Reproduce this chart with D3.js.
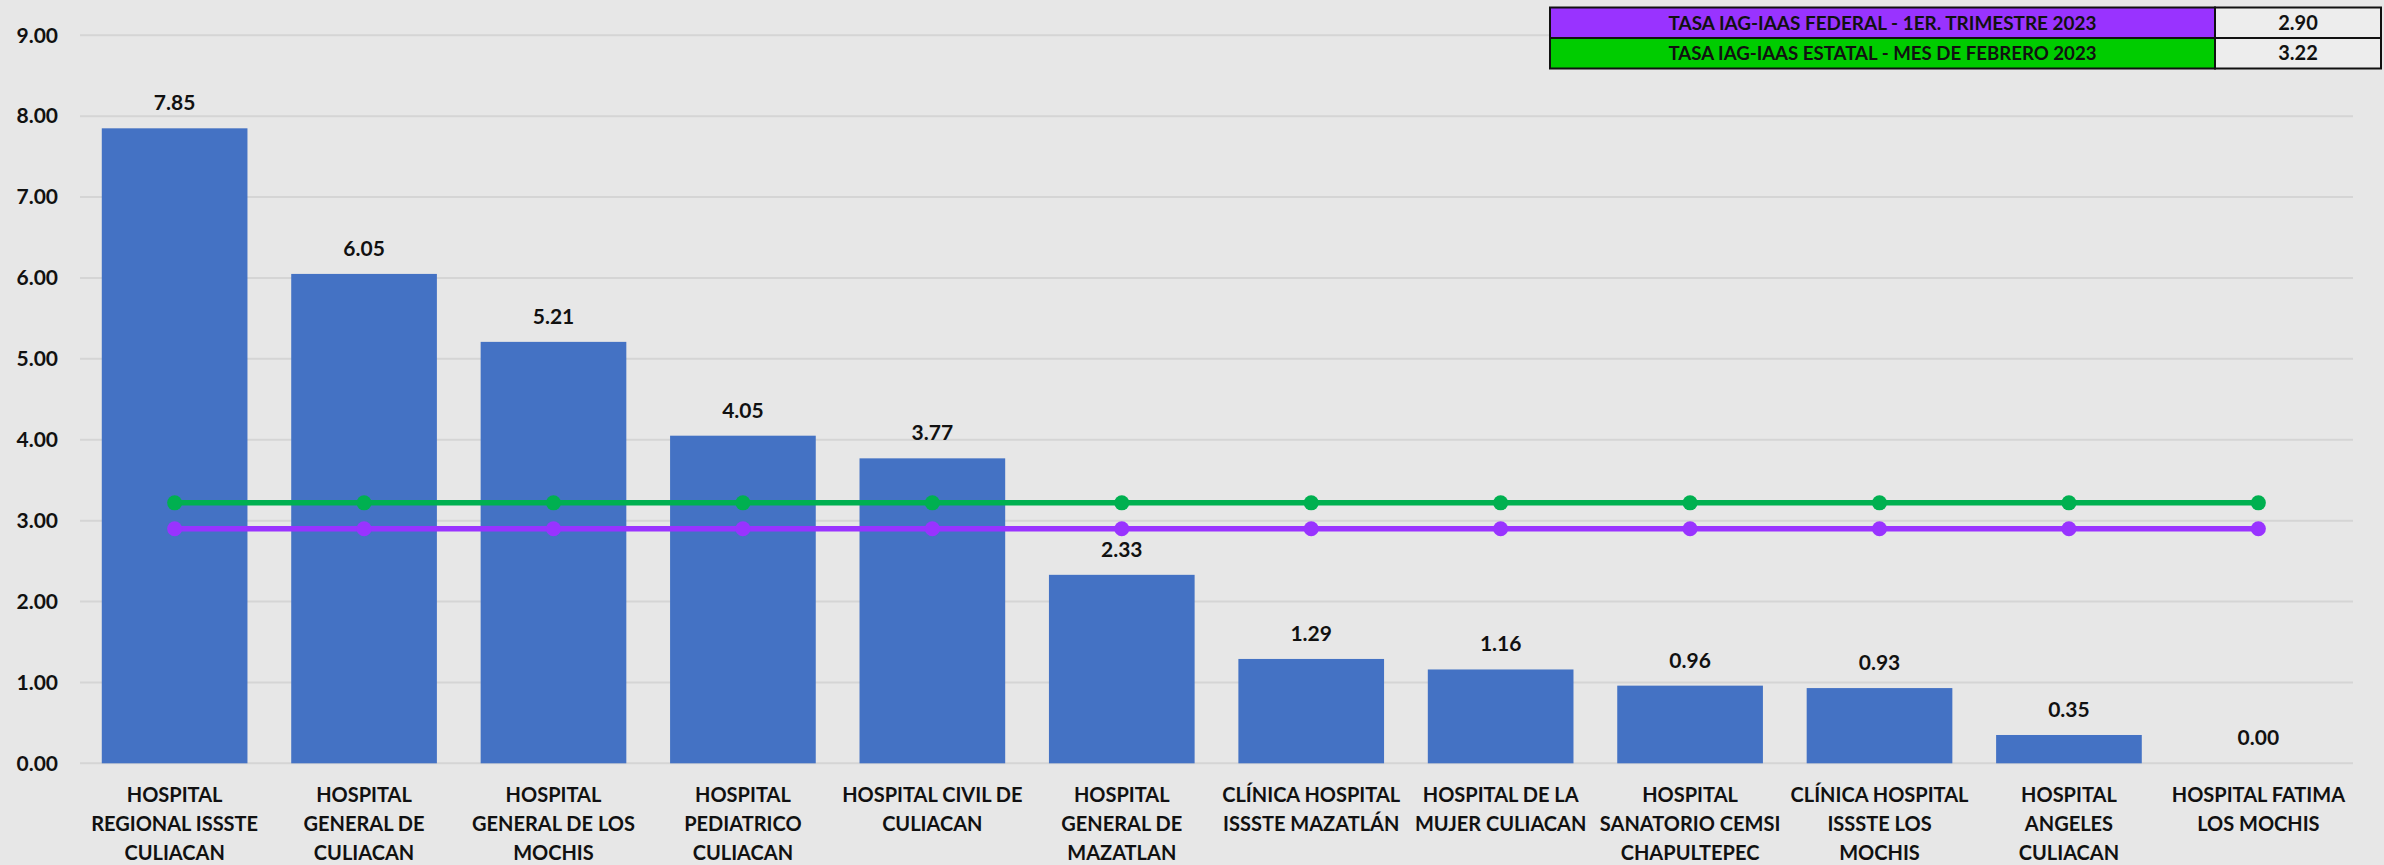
<!DOCTYPE html>
<html><head><meta charset="utf-8">
<script src="https://cdn.jsdelivr.net/npm/d3@7"></script>
<style>
html,body{margin:0;padding:0;background:#E7E7E7;}
svg{display:block;}
text{font-family:Lato,"Open Sans",sans-serif;font-weight:bold;fill:#111;}
</style></head><body>
<svg id="c" width="2384" height="865"></svg>
<script>
const categories = [
  ["HOSPITAL","REGIONAL ISSSTE","CULIACAN"],
  ["HOSPITAL","GENERAL DE","CULIACAN"],
  ["HOSPITAL","GENERAL DE LOS","MOCHIS"],
  ["HOSPITAL","PEDIATRICO","CULIACAN"],
  ["HOSPITAL CIVIL DE","CULIACAN"],
  ["HOSPITAL","GENERAL DE","MAZATLAN"],
  ["CLÍNICA HOSPITAL","ISSSTE MAZATLÁN"],
  ["HOSPITAL DE LA","MUJER CULIACAN"],
  ["HOSPITAL","SANATORIO CEMSI","CHAPULTEPEC"],
  ["CLÍNICA HOSPITAL","ISSSTE LOS","MOCHIS"],
  ["HOSPITAL","ANGELES","CULIACAN"],
  ["HOSPITAL FATIMA","LOS MOCHIS"]
];
const tasaHospital = [7.85, 6.05, 5.21, 4.05, 3.77, 2.33, 1.29, 1.16, 0.96, 0.93, 0.35, 0.00];
const tasaFederal = [2.90, 2.90, 2.90, 2.90, 2.90, 2.90, 2.90, 2.90, 2.90, 2.90, 2.90, 2.90];
const tasaEstatal = [3.22, 3.22, 3.22, 3.22, 3.22, 3.22, 3.22, 3.22, 3.22, 3.22, 3.22, 3.22];
const yTicks = [0, 1, 2, 3, 4, 5, 6, 7, 8, 9];
const legendLabels = ["TASA IAG-IAAS FEDERAL - 1ER. TRIMESTRE 2023", "TASA IAG-IAAS ESTATAL - MES DE FEBRERO 2023"];
const legendValues = [2.90, 3.22];

const svg = d3.select("#c");
const names = categories.map(c => c.join(" "));
const x = d3.scaleBand().domain(names).range([80, 2353]).paddingInner(0.231).paddingOuter(0.115);
const y = d3.scaleLinear().domain([0, 9]).range([763.3, 35.3]);

// gridlines
svg.append("g").selectAll("line").data(yTicks).join("line")
  .attr("x1", 80).attr("x2", 2353)
  .attr("y1", d => y(d)).attr("y2", d => y(d))
  .attr("stroke", "#D5D5D5").attr("stroke-width", 2);

// y axis labels
const yAxis = d3.axisLeft(y).tickValues(yTicks).tickFormat(d3.format(".2f")).tickSize(0).tickPadding(0);
const ya = svg.append("g").attr("transform", "translate(58,0)").call(yAxis);
ya.select(".domain").remove();
ya.selectAll("text").attr("font-size", 21).attr("fill", "#111")
  .style("font-family", "Lato").style("font-weight", "bold");

// bars
svg.append("g").selectAll("rect").data(tasaHospital).join("rect")
  .attr("x", (d, i) => x(names[i]))
  .attr("width", x.bandwidth())
  .attr("y", d => y(d))
  .attr("height", d => y(0) - y(d))
  .attr("fill", "#4472C4");

// data labels
svg.append("g").selectAll("text").data(tasaHospital).join("text")
  .attr("x", (d, i) => x(names[i]) + x.bandwidth() / 2)
  .attr("y", d => y(d) - 18)
  .attr("text-anchor", "middle").attr("font-size", 21)
  .text(d => d.toFixed(2));

// lines
const cx = i => x(names[i]) + x.bandwidth() / 2;
const line = d3.line().x((d, i) => cx(i)).y(d => y(d));
[[tasaEstatal, "#00B050"], [tasaFederal, "#9933FF"]].forEach(([data, col]) => {
  const g = svg.append("g");
  g.append("path").attr("d", line(data)).attr("fill", "none").attr("stroke", col).attr("stroke-width", 5.5);
  g.selectAll("circle").data(data).join("circle")
    .attr("cx", (d, i) => cx(i)).attr("cy", d => y(d)).attr("r", 7.5).attr("fill", col);
});

// category labels
const cl = svg.append("g");
categories.forEach((lines, i) => {
  const t = cl.append("text").attr("text-anchor", "middle").attr("font-size", 20);
  lines.forEach((ln, j) => {
    t.append("tspan").attr("x", cx(i)).attr("y", 802 + j * 29).text(ln);
  });
});

// legend table
const tx0 = 1550, tx1 = 2215, tx2 = 2381, ty0 = 7.5, rh = 30.5;
const fills = ["#9933FF", "#00CC00"];
const lg = svg.append("g");
legendLabels.forEach((lab, i) => {
  const yy = ty0 + i * rh;
  lg.append("rect").attr("x", tx0).attr("y", yy).attr("width", tx1 - tx0).attr("height", rh)
    .attr("fill", fills[i]).attr("stroke", "#111").attr("stroke-width", 2);
  lg.append("rect").attr("x", tx1).attr("y", yy).attr("width", tx2 - tx1).attr("height", rh)
    .attr("fill", "#EDEDED").attr("stroke", "#111").attr("stroke-width", 2);
  lg.append("text").attr("x", (tx0 + tx1) / 2).attr("y", yy + rh / 2 + 7)
    .attr("text-anchor", "middle").attr("font-size", 19)
    .attr("textLength", 428).attr("lengthAdjust", "spacingAndGlyphs").text(lab);
  lg.append("text").attr("x", (tx1 + tx2) / 2).attr("y", yy + rh / 2 + 7)
    .attr("text-anchor", "middle").attr("font-size", 20).text(legendValues[i].toFixed(2));
});
</script>
</body></html>
